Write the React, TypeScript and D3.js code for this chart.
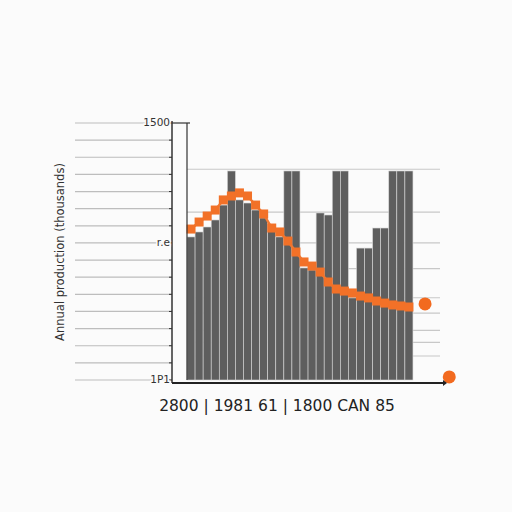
import * as d3 from "d3";

// bar values, one per column (left to right)
const barValues = [
  835, 864, 893, 934, 1021, 1220, 1051, 1033, 992, 946, 876, 835, 1220, 1220,
  654, 642, 975, 963, 1220, 1220, 479, 770, 770, 887, 887, 1220, 1220, 1220,
];

// orange line, one point per column
const lineValues = [
  881, 922, 957, 992, 1051, 1074, 1092, 1074, 1021, 969, 887, 864, 811, 747,
  689, 665, 630, 572, 531, 519, 508, 490, 479, 461, 449, 438, 432, 426,
];

// loose orange dots to the right of the bars (column slot, value)
const extraSlots = [29.5, 32.5];
const extraValues = [444, 18];

const yTickValues = [1500, 800, 0];
const yTickLabels = ["1500", "r.e", "1P1"];
const rightGrid = [1230, 980, 800, 650, 480, 390, 290, 220, 140];

const yTitle = "Annual production (thousands)";
const xTitle = "2800 | 1981 61 | 1800 CAN 85";

const W = 512;
const H = 512;
const axisX = 172;
const plotLeft = 187;
const colW = 8.07;
const top = 123;
const bottom = 380;

export default function App() {
  const y = d3.scaleLinear().domain([0, 1500]).range([bottom, top]);
  const x = d3
    .scaleLinear()
    .domain([0, barValues.length])
    .range([plotLeft, plotLeft + colW * barValues.length]);

  const leftGrid = y.ticks(20);
  const line = d3
    .line<number>()
    .x((_, i) => x(i + 0.5))
    .y((d) => y(d));

  return (
    <svg
      width={W}
      height={H}
      style={{ position: "absolute", left: 0, top: 0, background: "#fbfbfb" }}
      fontFamily="DejaVu Sans, sans-serif"
    >
      {/* gridlines left of the axis */}
      {leftGrid.map((t) => (
        <line key={"l" + t} x1={75} x2={axisX} y1={y(t)} y2={y(t)} stroke="#bdbdbd" strokeWidth={1.2} />
      ))}
      {/* gridlines across the plot */}
      {rightGrid.map((t) => (
        <line key={"r" + t} x1={plotLeft} x2={440} y1={y(t)} y2={y(t)} stroke="#c8c8c8" strokeWidth={1.2} />
      ))}

      {/* bars */}
      {barValues.map((v, i) => (
        <rect
          key={i}
          x={x(i)}
          y={y(v)}
          width={colW}
          height={bottom - y(v)}
          fill="#5e5e5e"
          stroke="#d8d8d8"
          strokeWidth={0.6}
        />
      ))}

      {/* orange line with square markers */}
      <path d={line(lineValues) ?? ""} fill="none" stroke="#f07a35" strokeWidth={2.5} />
      {lineValues.map((v, i) => (
        <rect key={"m" + i} x={x(i + 0.5) - 4.5} y={y(v) - 4.5} width={9} height={9} fill="#f27128" />
      ))}
      {extraSlots.map((s, i) => (
        <circle key={"e" + i} cx={x(s)} cy={y(extraValues[i])} r={6.5} fill="#f26a1f" />
      ))}

      {/* axes */}
      <line x1={axisX} x2={axisX} y1={top - 2} y2={bottom + 3} stroke="#333" strokeWidth={1.5} />
      <line x1={plotLeft} x2={plotLeft} y1={top} y2={bottom} stroke="#333" strokeWidth={1.2} />
      <line x1={axisX} x2={plotLeft + 3} y1={top} y2={top} stroke="#333" strokeWidth={1.2} />
      {leftGrid.map((t) => (
        <line key={"t" + t} x1={axisX - 3} x2={axisX} y1={y(t)} y2={y(t)} stroke="#333" strokeWidth={1} />
      ))}
      <line x1={axisX} x2={443} y1={bottom + 3} y2={bottom + 3} stroke="#222" strokeWidth={1.8} />
      <path d={`M443,${bottom} L447,${bottom + 3} L443,${bottom + 6} Z`} fill="#222" />

      {yTickValues.map((t, i) => (
        <text
          key={"yl" + t}
          x={axisX - 2}
          y={y(t)}
          dy="0.3em"
          textAnchor="end"
          fontSize={10.5}
          fill="#333"
          stroke="#fbfbfb"
          strokeWidth={3}
          paintOrder="stroke"
        >
          {yTickLabels[i]}
        </text>
      ))}

      <text
        transform={`translate(64,252) rotate(-90)`}
        textAnchor="middle"
        fontSize={11.5}
        fill="#333"
      >
        {yTitle}
      </text>
      <text x={277} y={411} textAnchor="middle" fontSize={15.5} fill="#222">
        {xTitle}
      </text>
    </svg>
  );
}
